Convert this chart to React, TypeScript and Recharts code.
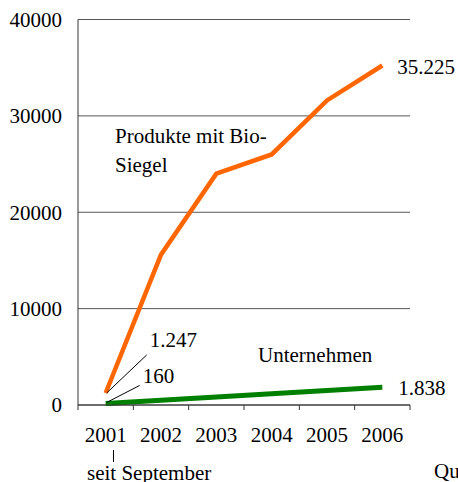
import React from 'react';
import { LineChart, Line, XAxis, YAxis, CartesianGrid } from 'recharts';

// values
const years = ['2001', '2002', '2003', '2004', '2005', '2006'];
const produkte = [1247, 15600, 24000, 26000, 31600, 35225];
const unternehmen = [160, 500, 830, 1170, 1500, 1838];
const yTicks = [0, 10000, 20000, 30000, 40000];

const data = years.map((year, i) => ({ year, produkte: produkte[i], unternehmen: unternehmen[i] }));

const FONT = '"Liberation Serif", "Times New Roman", serif';
const PLOT_W = 332;
const HALF_BAND = PLOT_W / years.length / 2;

// german thousands separator: 35225 -> 35.225
const fmt = (v: number) => String(v).replace(/\B(?=(\d{3})+(?!\d))/g, '.');

const XTick = (props: any) => {
  const { x, y, payload, index, visibleTicksCount } = props;
  const left = x - HALF_BAND;
  const right = x + HALF_BAND;
  return (
    <g>
      <line x1={left} y1={y} x2={left} y2={y + 5} stroke="#333" />
      {index === visibleTicksCount - 1 && <line x1={right} y1={y} x2={right} y2={y + 5} stroke="#333" />}
      <text x={x} y={y + 37} textAnchor="middle" fontSize={21} fontFamily={FONT} fill="#000">
        {payload.value}
      </text>
    </g>
  );
};

const orangeLabel = (props: any) => {
  const { x, y, index, value } = props;
  if (index === 0) {
    return (
      <g>
        <line x1={x + 1} y1={y} x2={x + 41} y2={y - 38} stroke="#000" />
        <text x={x + 44} y={y - 46} fontSize={21} fontFamily={FONT} fill="#000">{fmt(value)}</text>
      </g>
    );
  }
  if (index === produkte.length - 1) {
    return (
      <text x={x + 15} y={y + 8} fontSize={21} fontFamily={FONT} fill="#000">{fmt(value)}</text>
    );
  }
  return null;
};

const greenLabel = (props: any) => {
  const { x, y, index, value } = props;
  if (index === 0) {
    return (
      <g>
        <line x1={x + 1} y1={y - 1} x2={x + 34} y2={y - 18} stroke="#000" />
        <text x={x + 37} y={y - 20} fontSize={21} fontFamily={FONT} fill="#000">{fmt(value)}</text>
      </g>
    );
  }
  if (index === unternehmen.length - 1) {
    return (
      <text x={x + 16} y={y + 8} fontSize={21} fontFamily={FONT} fill="#000">{fmt(value)}</text>
    );
  }
  return null;
};

const txt: React.CSSProperties = {
  position: 'absolute',
  fontFamily: FONT,
  fontSize: 21,
  lineHeight: '21px',
  color: '#000',
  whiteSpace: 'nowrap',
};

export default function App() {
  return (
    <div style={{ position: 'absolute', left: 0, top: 0, width: 458, height: 482, background: '#fff', overflow: 'hidden' }}>
      <LineChart width={458} height={482} data={data} margin={{ top: 19.5, right: 48, bottom: 47, left: 0 }}>
        <CartesianGrid vertical={false} stroke="#555" />
        <XAxis
          dataKey="year"
          height={30}
          interval={0}
          padding={{ left: HALF_BAND, right: HALF_BAND }}
          tickLine={false}
          tickSize={0}
          tickMargin={0}
          axisLine={{ stroke: '#333' }}
          tick={<XTick />}
        />
        <YAxis
          width={78}
          domain={[0, 40000]}
          ticks={yTicks}
          tickLine={false}
          tickSize={6}
          tickMargin={10}
          axisLine={{ stroke: '#333' }}
          tick={{ fontSize: 21, fontFamily: FONT, fill: '#000' }}
        />
        <Line
          dataKey="produkte"
          stroke="#FF6600"
          strokeWidth={4.5}
          dot={false}
          activeDot={false}
          isAnimationActive={false}
          label={orangeLabel}
        />
        <Line
          dataKey="unternehmen"
          stroke="#008000"
          strokeWidth={5}
          dot={false}
          activeDot={false}
          isAnimationActive={false}
          label={greenLabel}
        />
      </LineChart>
      <div style={{ ...txt, left: 115, top: 126 }}>Produkte mit Bio-</div>
      <div style={{ ...txt, left: 115, top: 155 }}>Siegel</div>
      <div style={{ ...txt, left: 258, top: 345 }}>Unternehmen</div>
      <div style={{ position: 'absolute', left: 112.5, top: 450, width: 1, height: 12, background: '#000' }} />
      <div style={{ ...txt, left: 87, top: 463 }}>seit September</div>
      <div style={{ ...txt, left: 434, top: 461 }}>Qu</div>
    </div>
  );
}
